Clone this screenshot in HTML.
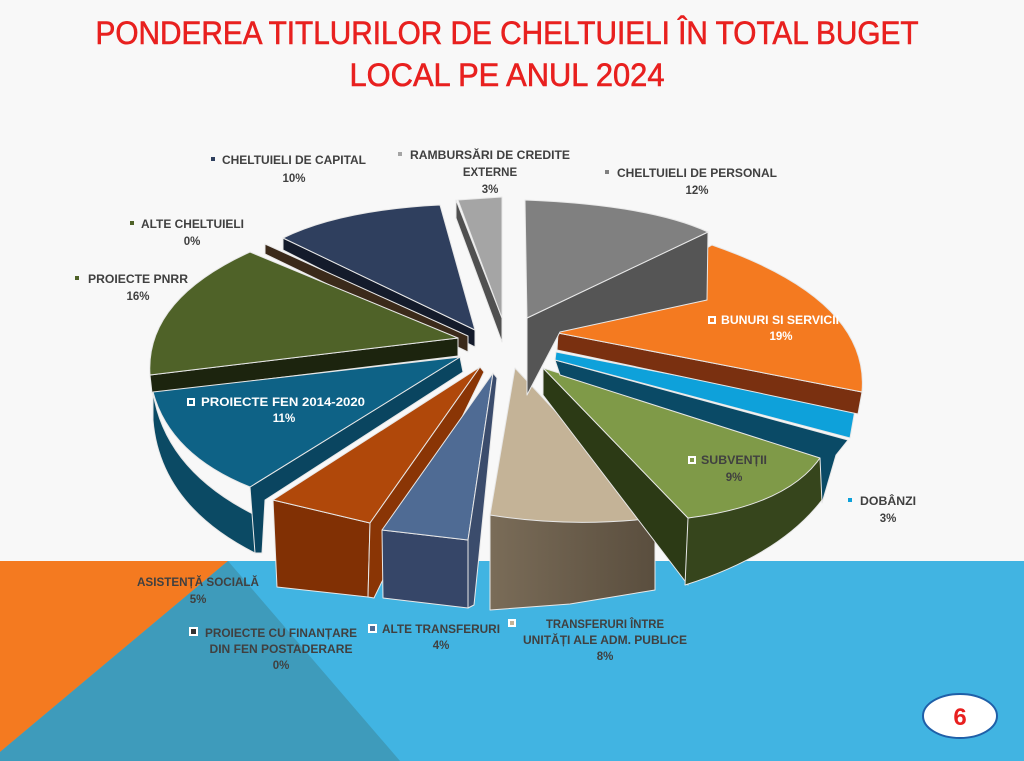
<!DOCTYPE html>
<html><head><meta charset="utf-8"><style>
html,body{margin:0;padding:0;background:#fafafa}
svg{display:block}
text{font-family:"Liberation Sans",sans-serif}
.l{font-size:11.5px;font-weight:bold;fill:#404040}
.w{font-size:11.5px;font-weight:bold;fill:#fff}
</style></head><body>
<svg width="1024" height="761" viewBox="0 0 1024 761" xmlns="http://www.w3.org/2000/svg">
<defs>
<linearGradient id="tan" x1="0" x2="1" y1="0" y2="0"><stop offset="0" stop-color="#7a6c58"/><stop offset="1" stop-color="#5a4e3e"/></linearGradient>
</defs>
<rect width="1024" height="761" fill="#f8f8f8"/>
<rect x="0" y="561" width="1024" height="200" fill="#41b4e2"/>
<polygon points="0,561 228,561 0,752" fill="#f47a20"/>
<polygon points="228,561 400,761 0,761 0,752" fill="#3e9bbb"/>
<text x="507" y="44" text-anchor="middle" font-size="32" fill="#e8201f" stroke="#e8201f" stroke-width="0.6" textLength="823" lengthAdjust="spacingAndGlyphs">PONDEREA TITLURILOR DE CHELTUIELI ÎN TOTAL BUGET</text>
<text x="507" y="86" text-anchor="middle" font-size="32" fill="#e8201f" stroke="#e8201f" stroke-width="0.6" textLength="315" lengthAdjust="spacingAndGlyphs">LOCAL PE ANUL 2024</text>

<g stroke="#e8e8e8" stroke-width="1" stroke-linejoin="round">
<polygon points="456,200 502,318 502,342 456,218" fill="#505050"/>
<polygon points="458,200 502,197 502,318" fill="#a5a5a5"/>
<polygon points="283,238 475,330 475,347 283,250" fill="#141b2b"/>
<path d="M475,330 L283,238 Q340,210 440,205 Z" fill="#2f3f5e"/>
<polygon points="265,244 468,336 468,352 265,254" fill="#3b2a1a"/>
<polygon points="150,375 458,338 458,356 152,393" fill="#1c240e"/>
<path d="M458,338 L150,375 Q145,300 250,252 Z" fill="#4f6228"/>
<path d="M153,392 Q165,470 255,515 L255,553 Q160,505 153,420 Z" fill="#0b4a64"/>
<polygon points="250,487 460,357 463,372 265,500 262,553 255,553" fill="#0a4560"/>
<path d="M460,357 L153,392 Q170,455 250,487 Z" fill="#0e6286"/>
<polygon points="273,500 370,523 368,597 277,587" fill="#813004"/>
<polygon points="480,367 273,500 370,523" fill="#b0480a"/>
<polygon points="370,523 480,367 484,372 374,598 368,597" fill="#8a3505"/>
<polygon points="382,530 468,540 468,608 383,598" fill="#364668"/>
<polygon points="493,373 382,530 468,540" fill="#4f6b94"/>
<polygon points="468,540 493,373 497,378 474,605 468,608" fill="#3b4c6c"/>
<polygon points="490,515 655,518 655,590 570,604 490,610" fill="url(#tan)"/>
<path d="M515,368 L490,515 Q570,528 655,518 Z" fill="#c4b397"/>
<polygon points="543,368 688,518 688,585 543,395" fill="#2c3a15"/>
<path d="M688,518 Q780,500 822,455 L822,500 Q780,555 685,585 Z" fill="#36451c"/>
<path d="M543,368 L822,455 Q790,505 688,518 Z" fill="#7f9a48"/>
<polygon points="555,360 848,440 836,455 822,503 820,458 560,375" fill="#0a4a66"/>
<polygon points="556,352 855,410 850,438 555,360" fill="#0ea1da"/>
<polygon points="558,333 862,392 858,414 557,350" fill="#7a3010"/>
<path d="M558,333 L712,245 Q870,300 862,392 Z" fill="#f47a20"/>
<polygon points="527,318 708,232 707,300 560,332 527,395" fill="#555555"/>
<path d="M527,318 L525,200 Q650,205 708,232 Z" fill="#808080"/>
</g>

<rect x="211" y="157" width="4" height="4" fill="#2f3f5e"/>
<text class="l" x="222" y="164" textLength="144" lengthAdjust="spacingAndGlyphs">CHELTUIELI DE CAPITAL</text>
<text class="l" x="294" y="182" text-anchor="middle">10%</text>
<rect x="398" y="152" width="4" height="4" fill="#a5a5a5"/>
<text class="l" x="410" y="159" textLength="160" lengthAdjust="spacingAndGlyphs">RAMBURSĂRI DE CREDITE</text>
<text class="l" x="490" y="176" text-anchor="middle">EXTERNE</text>
<text class="l" x="490" y="193" text-anchor="middle">3%</text>
<rect x="605" y="170" width="4" height="4" fill="#808080"/>
<text class="l" x="617" y="177" textLength="160" lengthAdjust="spacingAndGlyphs">CHELTUIELI DE PERSONAL</text>
<text class="l" x="697" y="194" text-anchor="middle">12%</text>
<rect x="130" y="221" width="4" height="4" fill="#4f6228"/>
<text class="l" x="141" y="228" textLength="103" lengthAdjust="spacingAndGlyphs">ALTE CHELTUIELI</text>
<text class="l" x="192" y="245" text-anchor="middle">0%</text>
<rect x="75" y="276" width="4" height="4" fill="#4f6228"/>
<text class="l" x="88" y="283" textLength="100" lengthAdjust="spacingAndGlyphs">PROIECTE PNRR</text>
<text class="l" x="138" y="300" text-anchor="middle">16%</text>
<rect x="708" y="316" width="8" height="8" fill="#fff"/><rect x="710" y="318" width="4" height="4" fill="#f47a20"/>
<text class="w" x="721" y="324" textLength="118" lengthAdjust="spacingAndGlyphs">BUNURI SI SERVICII</text>
<text class="w" x="781" y="340" text-anchor="middle">19%</text>
<rect x="187" y="398" width="8" height="8" fill="#fff"/><rect x="189" y="400" width="4" height="4" fill="#0e6286"/>
<text class="w" x="201" y="406" textLength="164" lengthAdjust="spacingAndGlyphs">PROIECTE FEN 2014-2020</text>
<text class="w" x="284" y="422" text-anchor="middle">11%</text>
<rect x="688" y="456" width="8" height="8" fill="#fff"/><rect x="690" y="458" width="4" height="4" fill="#7f9a48"/>
<text class="l" x="701" y="464" textLength="66" lengthAdjust="spacingAndGlyphs">SUBVENȚII</text>
<text class="l" x="734" y="481" text-anchor="middle">9%</text>
<rect x="848" y="498" width="4" height="4" fill="#0ea1da"/>
<text class="l" x="860" y="505" textLength="56" lengthAdjust="spacingAndGlyphs">DOBÂNZI</text>
<text class="l" x="888" y="522" text-anchor="middle">3%</text>
<text class="l" x="198" y="586" text-anchor="middle" textLength="122" lengthAdjust="spacingAndGlyphs">ASISTENȚĂ SOCIALĂ</text>
<text class="l" x="198" y="603" text-anchor="middle">5%</text>
<rect x="189" y="627" width="9" height="9" fill="#fff"/><rect x="191" y="629" width="5" height="5" fill="#333"/>
<text class="l" x="205" y="637" textLength="152" lengthAdjust="spacingAndGlyphs">PROIECTE CU FINANȚARE</text>
<text class="l" x="281" y="653" text-anchor="middle" textLength="143" lengthAdjust="spacingAndGlyphs">DIN FEN POSTADERARE</text>
<text class="l" x="281" y="669" text-anchor="middle">0%</text>
<rect x="368" y="624" width="9" height="9" fill="#fff"/><rect x="370" y="626" width="5" height="5" fill="#4f6b94"/>
<text class="l" x="382" y="633" textLength="118" lengthAdjust="spacingAndGlyphs">ALTE TRANSFERURI</text>
<text class="l" x="441" y="649" text-anchor="middle">4%</text>
<rect x="508" y="619" width="8" height="8" fill="#fff"/><rect x="510" y="621" width="4" height="4" fill="#c4b397"/>
<text class="l" x="605" y="628" text-anchor="middle" textLength="118" lengthAdjust="spacingAndGlyphs">TRANSFERURI ÎNTRE</text>
<text class="l" x="605" y="644" text-anchor="middle" textLength="164" lengthAdjust="spacingAndGlyphs">UNITĂȚI ALE ADM. PUBLICE</text>
<text class="l" x="605" y="660" text-anchor="middle">8%</text>

<ellipse cx="960" cy="716" rx="37" ry="22" fill="#fff" stroke="#1f5fa8" stroke-width="2"/>
<text x="960" y="725" text-anchor="middle" font-size="24" font-weight="bold" fill="#e8201f">6</text>
</svg>
</body></html>
